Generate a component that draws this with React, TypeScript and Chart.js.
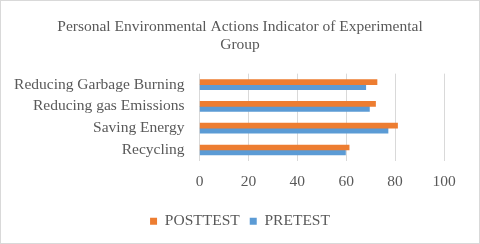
import React, { useEffect, useRef } from "react";
import { Chart, registerables } from "chart.js";

Chart.register(...registerables);

const categories = [
  "Reducing Garbage Burning",
  "Reducing gas Emissions",
  "Saving Energy",
  "Recycling",
];
const posttest = [72.6, 72, 81, 61.2];
const pretest = [68, 69.5, 77.1, 59.7];
const titleLines = ["Personal Environmental Actions Indicator of Experimental", "Group"];

export default function App() {
  const ref = useRef<HTMLCanvasElement>(null);
  useEffect(() => {
    if (!ref.current) return;
    const font = "'Liberation Serif', 'Times New Roman', serif";
    const chart = new Chart(ref.current, {
      type: "bar",
      data: {
        labels: categories,
        datasets: [
          { label: "POSTTEST", data: posttest, backgroundColor: "#ED7D31", barThickness: 5 },
          { label: "PRETEST", data: pretest, backgroundColor: "#5B9BD5", barThickness: 5 },
        ],
      },
      options: {
        indexAxis: "y",
        animation: false,
        responsive: false,
        maintainAspectRatio: false,
        layout: { padding: { left: 0, right: 0, top: 0, bottom: 4 } },
        plugins: {
          title: {
            display: true,
            text: titleLines,
            color: "#595959",
            font: { family: font, size: 15.5, weight: "normal", lineHeight: 1.15 },
            padding: { top: 17, bottom: 20 },
          },
          legend: {
            position: "bottom",
            labels: {
              color: "#595959",
              font: { family: font, size: 15.5 },
              boxWidth: 7,
              boxHeight: 7,
              padding: 10,
            },
          },
          tooltip: { enabled: false },
        },
        scales: {
          x: {
            min: 0,
            max: 100,
            ticks: { stepSize: 20, color: "#595959", font: { family: font, size: 15.5 }, padding: 12 },
            grid: { color: "#d9d9d9", drawTicks: false },
            border: { display: false },
          },
          y: {
            ticks: { color: "#595959", font: { family: font, size: 15.5 }, padding: 15, autoSkip: false },
            grid: { display: false, drawTicks: false },
            border: { display: false },
            afterFit: (scale: any) => {
              scale.width = 198.5;
            },
          },
          yRight: {
            type: "linear",
            position: "right",
            display: true,
            ticks: { display: false },
            grid: { display: false, drawTicks: false },
            border: { display: false },
            afterFit: (scale: any) => {
              scale.width = 35;
            },
          },
        },
      },
    });
    return () => chart.destroy();
  }, []);
  return (
    <div
      style={{
        position: "fixed",
        left: 0,
        top: 0,
        width: 480,
        height: 244,
        border: "1px solid #d9d9d9",
        boxSizing: "border-box",
        background: "#fff",
      }}
    >
      <canvas ref={ref} width={478} height={242} style={{ display: "block" }} />
    </div>
  );
}
